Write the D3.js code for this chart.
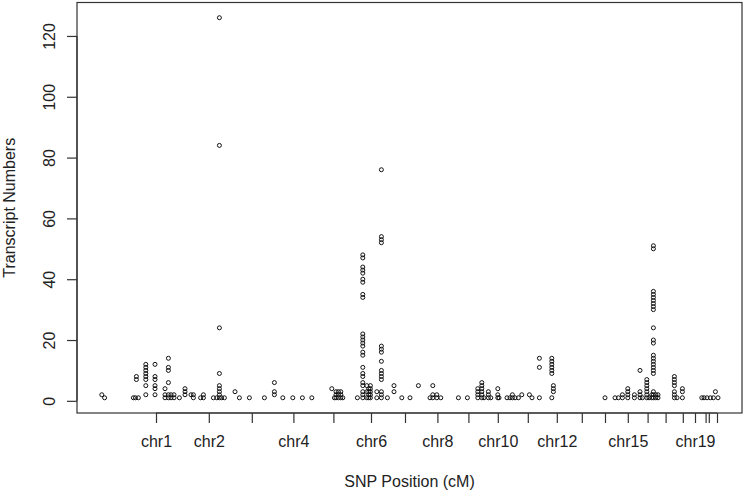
<!DOCTYPE html>
<html>
<head>
<meta charset="utf-8">
<script src="https://cdn.jsdelivr.net/npm/d3@7"></script>
<style>
  html, body { margin: 0; padding: 0; background: #fff; }
  svg { display: block; font-family: "Liberation Sans", Arial, sans-serif; }
</style>
</head>
<body>
<svg id="chart" width="746" height="494"></svg>
<script>
// ---- Data ----
// Chromosome names and the genome position (cM, cumulative) of their tick marks
const chromNames = ["chr1","chr2","chr3","chr4","chr5","chr6","chr7","chr8","chr9","chr10","chr11",
                    "chr12","chr13","chr14","chr15","chr16","chr17","chr18","chr19","chr20","chr21","chr22"];
const chromTickPos = [395, 659, 874, 1082, 1282, 1470, 1640, 1802, 1957, 2104, 2254,
                      2399, 2524, 2640, 2754, 2853, 2943, 3029, 3090, 3143, 3159, 3200];
// Labels that are visible on the axis (others are hidden because they would overlap)
const shownLabels = ["chr1","chr2","chr4","chr6","chr8","chr10","chr12","chr15","chr19"];

// SNP positions (cM) and transcript numbers found at each position
const snpPos = [124,138,282,292,297,307,344,390,440,457,470,485,512,540,570,582,618,632,682,699,712,723,737,
  790,812,862,937,987,1029,1079,1127,1174,1274,1287,1295,1307,1319,1329,1402,1429,1449,1459,1467,1499,1522,
  1552,1585,1624,1665,1707,1765,1779,1799,1819,1907,1952,2004,2024,2035,2057,2069,2104,2110,2150,2165,2177,
  2190,2207,2224,2262,2275,2312,2374,2382,2640,2690,2707,2727,2754,2787,2815,2827,2849,2860,2874,2882,2894,
  2905,2987,3000,3027,3124,3135,3150,3167,3182,3192,3205];
const transcriptNumbers = [
  [2],[1],[1],[1],[8,7],[1],[12,11,10,9,8,7,5,2],[12,8,7,5,4,2],[4,2,1],[14,11,10,6,2,1],[2,1],[2,1],[1],
  [4,3,2],[2],[2,1],[1],[2,1],[1],[1],[126,84,24,9,5,4,3,2,1],[1],[1],
  [3],[1],[1],[1],[6,3,2],[1],[1],[1],[1],[4],[1],[3,2,1],[3,2,1],[3,2,1],[1],[1],
  [48,47,44,43,42,40,39,35,34,22,21,20,19,18,16,15,11,9,8,6,5,3,2,1],[5,3,1],[4,3,2,1],[5,4,3,2,1],[3,1],
  [76,54,53,52,18,17,16,13,10,9,8,7,3,2,1],
  [1],[5,3],[1],[1],[5],[1],[5,2,1],[2,1],[1],[1],[1],[4,3,2,1],[6,5,4,3,2,1],[1],[3,2,1],[1],
  [4,2,1],[1],[1],[1],[2,1],[1],[1],[2],[2],[1],[14,11,1],[14,13,12,11,10,9,1],[5,4,3],
  [1],[1],[1],[2,1],[4,3,2,1],[2,1],[10,3,2,1],[1],[7,6,5,4,3,2,1],[1],[2,1],
  [51,50,36,35,34,33,32,31,30,24,20,19,15,14,13,12,11,10,9,3,2,1],[2,1],
  [2,1],[8,7,6,5,3,2,1],[1],[4,3,1],[1],[1],[1],[1],[1],[3],[1]
];
const yTicks = [0, 20, 40, 60, 80, 100, 120];
const xTitle = "SNP Position (cM)";
const yTitle = "Transcript Numbers";

// ---- Layout ----
const frame = { left: 77, right: 742, top: 2.5, bottom: 413 };
const svg = d3.select("#chart");

const x = d3.scaleLinear().domain([0, 3325]).range([frame.left, frame.right]);
const y = d3.scaleLinear().domain([-4, 131]).range([frame.bottom, frame.top]);

const points = [];
snpPos.forEach((p, i) => transcriptNumbers[i].forEach(v => points.push({ pos: p, value: v })));

// Points (open circles)
svg.append("g")
  .selectAll("circle")
  .data(points)
  .join("circle")
  .attr("cx", d => x(d.pos))
  .attr("cy", d => y(d.value))
  .attr("r", 2.0)
  .attr("fill", "none")
  .attr("stroke", "#111")
  .attr("stroke-width", 1.0);

// Frame
svg.append("rect")
  .attr("x", frame.left).attr("y", frame.top)
  .attr("width", frame.right - frame.left).attr("height", frame.bottom - frame.top)
  .attr("fill", "none").attr("stroke", "#333").attr("stroke-width", 1.2);

// Y axis
const yAxisG = svg.append("g").attr("transform", `translate(${frame.left},0)`)
  .call(d3.axisLeft(y).tickValues(yTicks).tickSize(10).tickFormat(d3.format("d")));
yAxisG.select(".domain").attr("d", `M0,${y(0)}V${y(120)}`).attr("stroke", "#333").attr("stroke-width", 1.2);
yAxisG.selectAll(".tick line").attr("stroke", "#333").attr("stroke-width", 1.2);
yAxisG.selectAll(".tick text")
  .attr("x", null).attr("dy", null)
  .attr("transform", "translate(-22,0) rotate(-90)")
  .attr("text-anchor", "middle")
  .attr("font-size", 16).attr("fill", "#222")
  .attr("font-family", "Liberation Sans, Arial, sans-serif");

// X axis
const xAxisG = svg.append("g").attr("transform", `translate(0,${frame.bottom})`)
  .call(d3.axisBottom(x).tickValues(chromTickPos).tickSize(10)
    .tickFormat((d, i) => shownLabels.includes(chromNames[i]) ? chromNames[i] : ""));
xAxisG.select(".domain").attr("d", `M${x(chromTickPos[0])},0H${x(chromTickPos[chromTickPos.length - 1])}`)
  .attr("stroke", "#333").attr("stroke-width", 1.2);
xAxisG.selectAll(".tick line").attr("stroke", "#333").attr("stroke-width", 1.2);
xAxisG.selectAll(".tick text")
  .attr("y", 34).attr("dy", null)
  .attr("font-size", 16).attr("fill", "#222")
  .attr("font-family", "Liberation Sans, Arial, sans-serif");

// Axis titles
svg.append("text")
  .attr("x", (frame.left + frame.right) / 2).attr("y", 487)
  .attr("text-anchor", "middle").attr("font-size", 16).attr("fill", "#222")
  .text(xTitle);
svg.append("text")
  .attr("transform", `translate(15,${(frame.top + frame.bottom) / 2}) rotate(-90)`)
  .attr("text-anchor", "middle").attr("font-size", 16).attr("fill", "#222")
  .text(yTitle);
</script>
</body>
</html>
